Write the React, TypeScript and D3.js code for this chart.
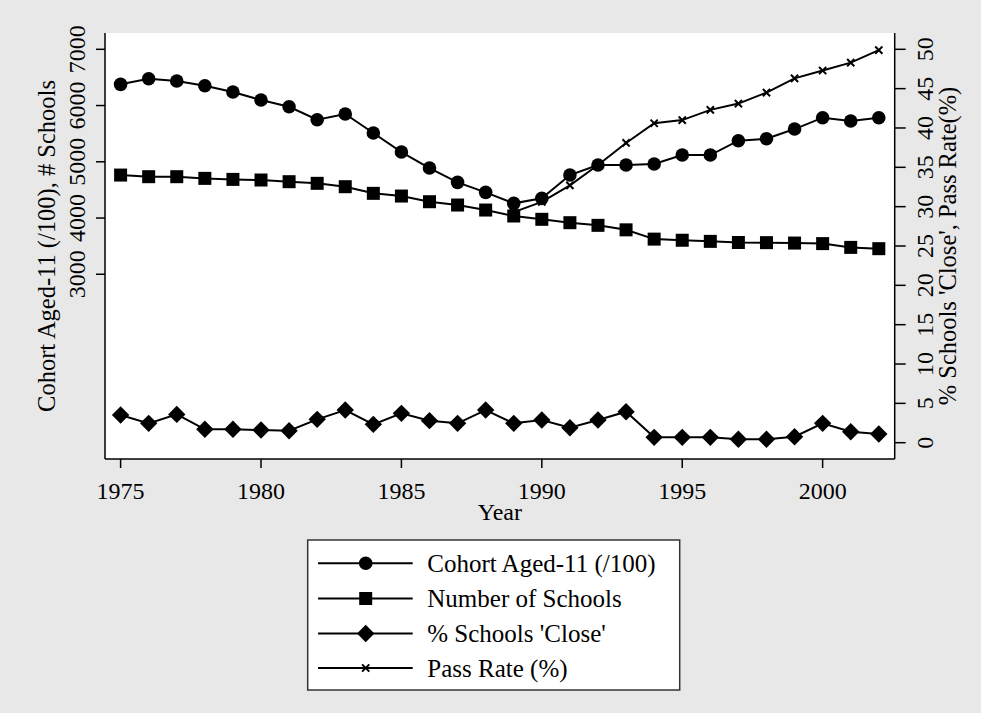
import React from "react";
import * as d3 from "d3";

const years = [1975,1976,1977,1978,1979,1980,1981,1982,1983,1984,1985,1986,1987,1988,1989,1990,1991,1992,1993,1994,1995,1996,1997,1998,1999,2000,2001,2002];
const cohort = [6377,6477,6436,6352,6240,6098,5979,5748,5849,5511,5173,4889,4634,4457,4261,4350,4764,4942,4942,4960,5120,5120,5375,5410,5582,5784,5724,5784];
const schools = [4764,4735,4735,4705,4687,4676,4646,4617,4557,4439,4391,4290,4231,4142,4036,3977,3917,3870,3790,3625,3605,3585,3565,3562,3555,3545,3478,3455];
const closePct = [3.52,2.46,3.6,1.7,1.7,1.61,1.52,2.97,4.15,2.33,3.73,2.8,2.46,4.15,2.46,2.88,1.9,2.88,3.94,0.68,0.68,0.68,0.43,0.43,0.76,2.46,1.4,1.1];
const passYears = [1989,1990,1991,1992,1993,1994,1995,1996,1997,1998,1999,2000,2001,2002];
const passRate = [29.3,30.6,32.7,35.3,38.1,40.6,41.0,42.3,43.1,44.5,46.3,47.3,48.3,49.9];

const xTicks = [1975,1980,1985,1990,1995,2000];
const leftTicks = [3000,4000,5000,6000,7000];
const rightTicks = [0,5,10,15,20,25,30,35,40,45,50];
const legendLabels = ["Cohort Aged-11 (/100)", "Number of Schools", "% Schools 'Close'", "Pass Rate (%)"];
const leftTitle = "Cohort Aged-11 (/100), # Schools";
const rightTitle = "% Schools 'Close', Pass Rate(%)";
const xTitle = "Year";

const FONT = "'Liberation Serif', 'Times New Roman', serif";

function Marker({ type, x, y }: { type: string; x: number; y: number }) {
  if (type === "circle") return <circle cx={x} cy={y} r={6.8} fill="#000" />;
  if (type === "square") return <rect x={x - 6.5} y={y - 6.5} width={13} height={13} fill="#000" />;
  if (type === "diamond") {
    const s = 8.7;
    return <path d={`M${x},${y - s}L${x + s},${y}L${x},${y + s}L${x - s},${y}Z`} fill="#000" />;
  }
  const s = 3.6;
  return <path d={`M${x - s},${y - s}L${x + s},${y + s}M${x - s},${y + s}L${x + s},${y - s}`} stroke="#000" strokeWidth={2} />;
}

export default function App() {
  const W = 981, H = 713;
  const plotL = 105, plotR = 894.7, plotT = 33, plotB = 459;
  const x = d3.scaleLinear().domain([1975, 2002]).range([120.6, 878.8]);
  const yL = d3.scaleLinear().domain([0, 7000]).range([443, 49.3]);
  const yR = d3.scaleLinear().domain([0, 50]).range([442.7, 49.3]);

  const lineL = d3.line<[number, number]>().x(d => x(d[0])).y(d => yL(d[1]));
  const lineR = d3.line<[number, number]>().x(d => x(d[0])).y(d => yR(d[1]));

  const cohortPts: [number, number][] = years.map((yr, i) => [yr, cohort[i]]);
  const schoolPts: [number, number][] = years.map((yr, i) => [yr, schools[i]]);
  const closePts: [number, number][] = years.map((yr, i) => [yr, closePct[i]]);
  const passPts: [number, number][] = passYears.map((yr, i) => [yr, passRate[i]]);

  const series = [
    { pts: cohortPts, gen: lineL, sc: yL, type: "circle" },
    { pts: schoolPts, gen: lineL, sc: yL, type: "square" },
    { pts: closePts, gen: lineR, sc: yR, type: "diamond" },
    { pts: passPts, gen: lineR, sc: yR, type: "x" },
  ];

  const midY = (plotT + plotB) / 2;
  const legX = 307.7, legY = 540, legW = 372, legH = 150;
  const rowY = [563.3, 598.5, 633.5, 668];
  const legType = ["circle", "square", "diamond", "x"];

  return (
    <svg width={W} height={H} style={{ position: "absolute", left: 0, top: 0 }} fontFamily={FONT}>
      <rect x={0} y={0} width={W} height={H} fill="#e8e8e8" />
      <rect x={plotL} y={plotT} width={plotR - plotL} height={plotB - plotT} fill="#fff" />
      <line x1={plotL} x2={plotL} y1={plotT} y2={plotB} stroke="#000" strokeWidth={1.5} />
      <line x1={plotR} x2={plotR} y1={plotT} y2={plotB} stroke="#000" strokeWidth={1.5} />
      <line x1={plotL} x2={plotR} y1={plotB} y2={plotB} stroke="#000" strokeWidth={1.5} />

      {leftTicks.map(t => (
        <g key={"l" + t}>
          <line x1={plotL - 9} x2={plotL} y1={yL(t)} y2={yL(t)} stroke="#000" strokeWidth={1.5} />
          <text transform={`translate(85,${yL(t)}) rotate(-90)`} textAnchor="middle" fontSize={24}>{t}</text>
        </g>
      ))}
      {rightTicks.map(t => (
        <g key={"r" + t}>
          <line x1={plotR} x2={plotR + 11} y1={yR(t)} y2={yR(t)} stroke="#000" strokeWidth={1.5} />
          <text transform={`translate(933,${yR(t)}) rotate(-90)`} textAnchor="middle" fontSize={24}>{t}</text>
        </g>
      ))}
      {xTicks.map(t => (
        <g key={"x" + t}>
          <line x1={x(t)} x2={x(t)} y1={plotB} y2={plotB + 9} stroke="#000" strokeWidth={1.5} />
          <text x={x(t)} y={499} textAnchor="middle" fontSize={24}>{t}</text>
        </g>
      ))}
      <text x={(plotL + plotR) / 2} y={520} textAnchor="middle" fontSize={24}>{xTitle}</text>
      <text transform={`translate(55,${midY}) rotate(-90)`} textAnchor="middle" fontSize={24.5}>{leftTitle}</text>
      <text transform={`translate(955.5,${midY}) rotate(-90)`} textAnchor="middle" fontSize={24.5}>{rightTitle}</text>

      {series.map((s, i) => (
        <g key={"s" + i}>
          <path d={s.gen(s.pts) || ""} fill="none" stroke="#000" strokeWidth={2} />
          {s.pts.map((p, j) => (
            <Marker key={j} type={s.type} x={x(p[0])} y={s.sc(p[1])} />
          ))}
        </g>
      ))}

      <rect x={legX} y={legY} width={legW} height={legH} fill="#fff" stroke="#333" strokeWidth={1.5} />
      {legendLabels.map((lab, i) => (
        <g key={"leg" + i}>
          <line x1={318} x2={412.7} y1={rowY[i]} y2={rowY[i]} stroke="#000" strokeWidth={2} />
          <Marker type={legType[i]} x={365.7} y={rowY[i]} />
          <text x={427.3} y={rowY[i] + 8.5} fontSize={25}>{lab}</text>
        </g>
      ))}
    </svg>
  );
}
